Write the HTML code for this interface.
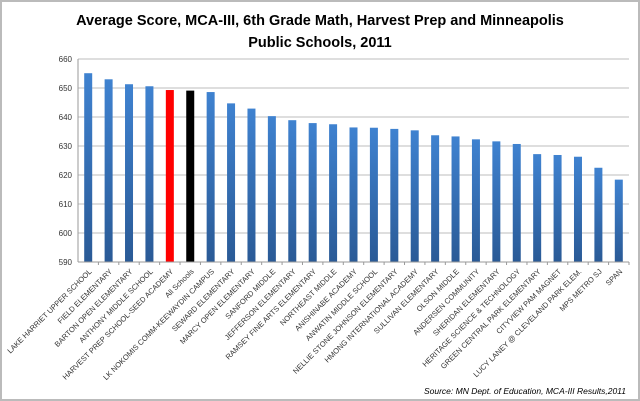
<!DOCTYPE html>
<html><head><meta charset="utf-8"><style>
body{margin:0;background:#fff;}
svg{display:block;font-family:"Liberation Sans",sans-serif;}
</style></head><body>
<svg id="c" width="640" height="401">
<defs><linearGradient id="bg" x1="0" x2="0" y1="0" y2="1"><stop offset="0" stop-color="#3f82d0"/><stop offset="1" stop-color="#2a5a96"/></linearGradient></defs>
<rect x="1" y="1" width="638" height="399" fill="#fff" stroke="#bbb" stroke-width="2"/>
<text x="320" y="25" text-anchor="middle" font-size="14.5" font-weight="bold">Average Score, MCA-III, 6th Grade Math, Harvest Prep and Minneapolis</text>
<text x="320" y="47" text-anchor="middle" font-size="14.5" font-weight="bold">Public Schools, 2011</text>
<text x="626" y="394" text-anchor="end" font-size="8.5" font-style="italic">Source: MN Dept. of Education, MCA-III Results,2011</text>
<g id="g"></g>
</svg>
<script>
const categories=["LAKE HARRIET UPPER SCHOOL","FIELD ELEMENTARY","BARTON OPEN ELEMENTARY","ANTHONY MIDDLE SCHOOL","HARVEST PREP SCHOOL-SEED ACADEMY","All Schools","LK NOKOMIS COMM-KEEWAYDIN CAMPUS","SEWARD ELEMENTARY","MARCY OPEN ELEMENTARY","SANFORD MIDDLE","JEFFERSON ELEMENTARY","RAMSEY FINE ARTS ELEMENTARY","NORTHEAST MIDDLE","ANISHINABE ACADEMY","ANWATIN MIDDLE SCHOOL","NELLIE STONE JOHNSON ELEMENTARY","HMONG INTERNATIONAL ACADEMY","SULLIVAN ELEMENTARY","OLSON MIDDLE","ANDERSEN COMMUNITY","SHERIDAN ELEMENTARY","HERITAGE SCIENCE & TECHNOLOGY","GREEN CENTRAL PARK ELEMENTARY","CITYVIEW PAM MAGNET","LUCY LANEY @ CLEVELAND PARK ELEM.","MPS METRO SJ","SPAN"];
const scores=[655.1,653,651.3,650.6,649.3,649.1,648.6,644.7,642.9,640.3,638.9,637.9,637.5,636.4,636.3,635.9,635.4,633.7,633.3,632.3,631.6,630.7,627.2,626.9,626.3,622.5,618.4];
const yTicks=[590,600,610,620,630,640,650,660];
const X0=78,X1=629,Y0=262,Ymin=590,Ymax=660,YT=59;
const y=v=>Y0-(v-Ymin)/(Ymax-Ymin)*(Y0-YT);
const bw=(X1-X0)/categories.length;
const x=i=>X0+bw*(i+0.5);
const g=document.getElementById('g');
const NS='http://www.w3.org/2000/svg';
function mk(t,a){const e=document.createElementNS(NS,t);for(const k in a)e.setAttribute(k,a[k]);g.appendChild(e);return e;}
yTicks.forEach(v=>{
 const l=mk('line',{x1:X0,x2:X1,y1:y(v),y2:y(v),stroke:'#bdbdbd','stroke-width':1});
 
 
 const t=mk('text',{x:X0-6,y:y(v)+3,'text-anchor':'end','font-size':8,fill:'#333'});
 t.textContent=v;
 
 
});
const ax=mk('line',{x1:X0,x2:X0,y1:YT,y2:Y0,stroke:'#999'});


categories.forEach((c,i)=>{
 const col=i===4?'#ff0000':i===5?'#000':'url(#bg)';
 const r=mk('rect',{x:x(i)-4,y:y(scores[i]),width:8,height:Y0-y(scores[i]),fill:col});
 
 
 const tk=mk('line',{x1:X0+bw*(i+1),x2:X0+bw*(i+1),y1:Y0,y2:Y0+3,stroke:'#999'});
 
 
 const t=mk('text',{x:x(i)+4,y:Y0+10,'text-anchor':'end','font-size':7.5,fill:'#333',transform:`rotate(-45 ${x(i)+4} ${Y0+10})`});
 t.textContent=c;
 
 
});
const xa=mk('line',{x1:X0,x2:X1,y1:Y0,y2:Y0,stroke:'#999'});


</script>
</body></html>
